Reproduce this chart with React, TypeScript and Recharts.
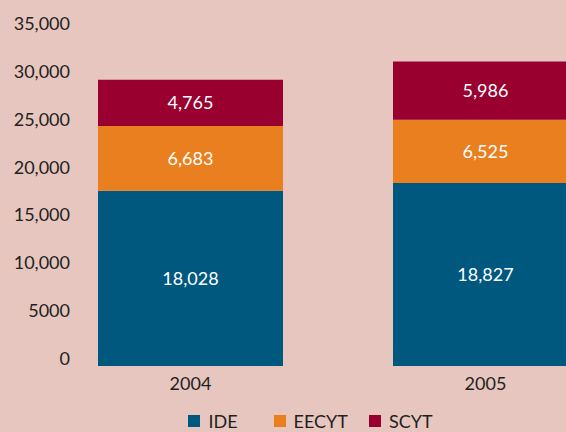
import { BarChart, Bar, XAxis, YAxis, Legend, LabelList } from 'recharts';

const years = ['2004', '2005'];
const ide = [18028, 18827];
const eecyt = [6683, 6525];
const scyt = [4765, 5986];
const yTicks = [0, 5000, 10000, 15000, 20000, 25000, 30000, 35000];

const series = [
  { key: 'ide', name: 'IDE', color: '#00587f' },
  { key: 'eecyt', name: 'EECYT', color: '#e97f1f' },
  { key: 'scyt', name: 'SCYT', color: '#990030' },
];

const data = years.map((year, i) => ({
  year,
  ide: ide[i],
  eecyt: eecyt[i],
  scyt: scyt[i],
}));

const font = 'Lato, "Open Sans", sans-serif';
const textColor = '#231f20';

const fmtTick = (v: number) => (v === 5000 || v === 0 ? String(v) : v.toLocaleString('en-US'));

const YTick = (props: any) => {
  const { x, y, payload } = props;
  return (
    <text x={x + 87} y={y} textAnchor="end" dominantBaseline="central" fontSize={18} fill={textColor} fontFamily={font}>
      {fmtTick(payload.value)}
    </text>
  );
};

const gaps = [36, 21, 0];

const LegendContent = () => (
  <div style={{ display: 'flex', justifyContent: 'center', fontFamily: font, fontSize: 18, color: textColor, lineHeight: '20px', height: 20 }}>
    {series.map((s, i) => (
      <div key={s.key} style={{ display: 'flex', alignItems: 'center', marginRight: gaps[i] }}>
        <span style={{ width: 12, height: 12, background: s.color, display: 'inline-block', marginRight: 8 }} />
        <span>{s.name}</span>
      </div>
    ))}
  </div>
);

export default function App() {
  return (
    <div style={{ position: 'absolute', left: 0, top: 0, width: 566, height: 432, overflow: 'hidden', background: '#e7c6c0' }}>
      <BarChart
        width={633}
        height={432}
        data={data}
        margin={{ top: 20, right: 0, left: 0, bottom: 16 }}
        barCategoryGap={55}
      >
        <XAxis
          dataKey="year"
          axisLine={false}
          tickLine={false}
          tickSize={0}
          tickMargin={11}
          height={30}
          tick={{ fontSize: 18, fill: textColor, fontFamily: font }}
        />
        <YAxis yAxisId="bars" hide domain={[0, 35618]} allowDataOverflow />
        <YAxis
          yAxisId="labels"
          type="number"
          domain={[-836, 35313]}
          allowDataOverflow
          ticks={yTicks}
          width={43}
          axisLine={false}
          tickLine={false}
          tickSize={0}
          tickMargin={0}
          tick={<YTick />}
        />
        <Legend
          verticalAlign="bottom"
          height={20}
          content={<LegendContent />}
          wrapperStyle={{ top: 411, bottom: 'auto', left: -6, width: 633 }}
        />
        {series.map((s) => (
          <Bar key={s.key} yAxisId="bars" dataKey={s.key} name={s.name} stackId="a" fill={s.color} isAnimationActive={false}>
            <LabelList
              dataKey={s.key}
              position="center"
              fill="#ffffff"
              fontSize={18}
              fontFamily={font}
              formatter={(v: any) => Number(v).toLocaleString('en-US')}
            />
          </Bar>
        ))}
      </BarChart>
    </div>
  );
}
